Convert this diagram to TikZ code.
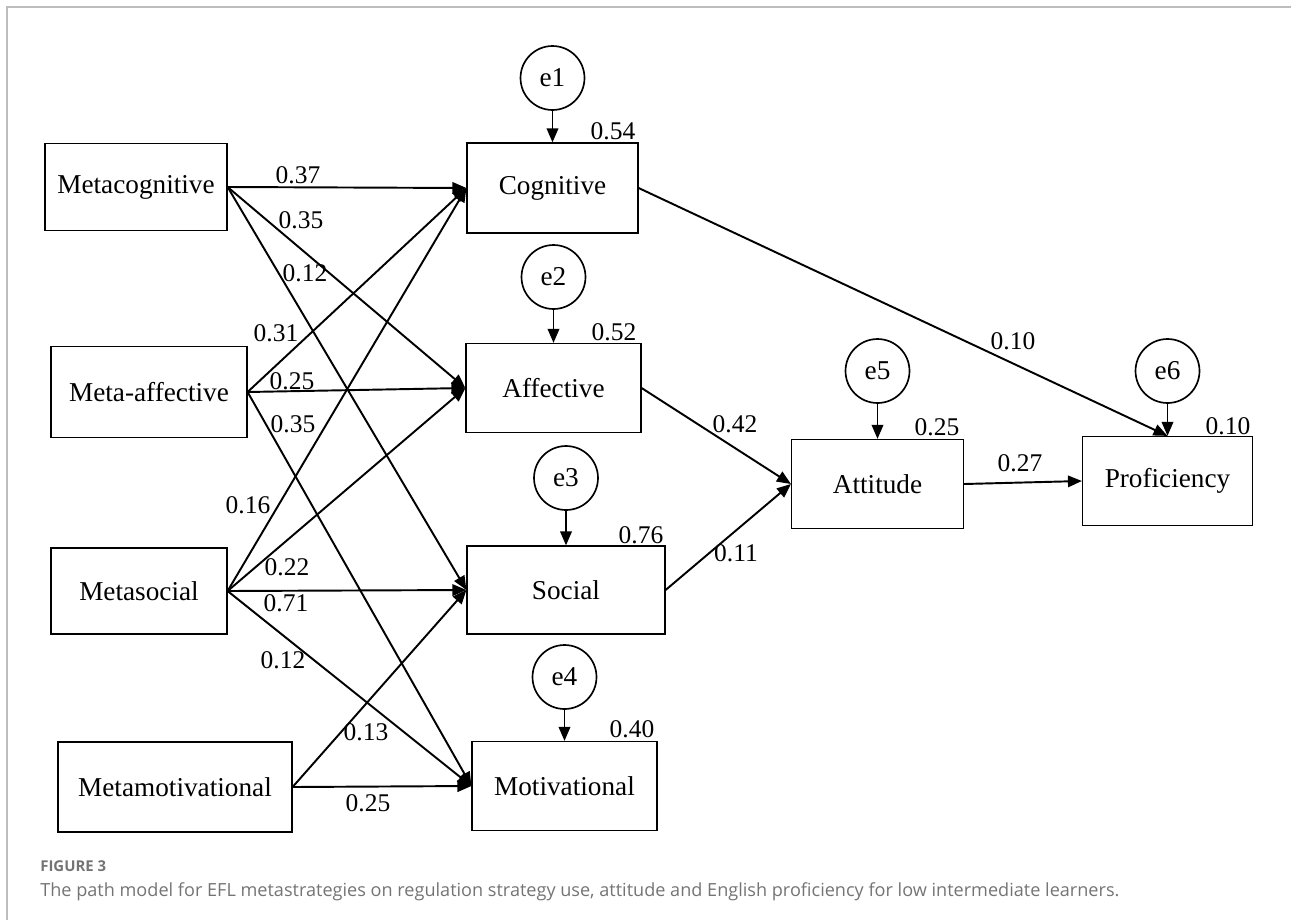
\documentclass[tikz,border=0pt]{standalone}
\usepackage{fontspec}
\setmainfont{Liberation Serif}
\newfontfamily\capfont{Open Sans}
\usetikzlibrary{positioning, arrows.meta, shapes, calc}
\definecolor{framegray}{HTML}{BDBDBD}
\definecolor{capgray}{HTML}{747474}

\begin{document}
\begin{tikzpicture}[
        x=0.02cm, y=-0.02cm,
        var/.style={rectangle, draw, line width=0.7pt, minimum height=1.78cm, font=\fontsize{15.5}{18}\selectfont},
        err/.style={circle, draw, line width=0.95pt, minimum size=1.28cm, inner sep=0pt, font=\fontsize{15.5}{18}\selectfont},
        coef/.style={font=\fontsize{14.5}{17}\selectfont, inner sep=1pt},
        link/.style={-{Triangle[length=2.8mm, width=2.3mm]}, line width=1.1pt}
    ]
    \useasboundingbox (0,0) rectangle (1291,920);
    \draw[framegray, line width=1.1pt] (1291,7) -- (7,7) -- (7,920);

    % metastrategies (left column)
    \node[var, minimum width=3.64cm, minimum height=1.74cm] (metacog) at (136,187) {Metacognitive};
    \node[var, minimum width=3.92cm, minimum height=1.82cm] (metaaff) at (149,392) {Meta-affective};
    \node[var, minimum width=3.52cm, minimum height=1.72cm] (metasoc) at (139,591) {Metasocial};
    \node[var, minimum width=4.68cm, minimum height=1.80cm] (metamot) at (175,787) {Metamotivational};

    % regulation strategies (middle column)
    \node[var, minimum width=3.42cm, minimum height=1.80cm] (cog) at (552.5,188) {Cognitive};
    \node[var, minimum width=3.50cm] (aff) at (553.5,388) {Affective};
    \node[var, minimum width=3.96cm, minimum height=1.76cm] (soc) at (566,590) {Social};
    \node[var, minimum width=3.70cm] (mot) at (564.5,786) {Motivational};

    % outcomes
    \node[var, minimum width=3.44cm] (att) at (877.5,484) {Attitude};
    \node[var, minimum width=3.40cm] (prof) at (1167.5,481) {Proficiency};

    % error terms
    \foreach \e/\x/\y/\t in {1/552.5/78/cog, 2/553.5/277/aff, 3/566/478/soc, 4/564.5/677/mot, 5/877.5/371/att, 6/1167.5/371/prof} {
        \node[err] (e\e) at (\x,\y) {e\e};
        \draw[link] (e\e) -- (e\e |- \t.north);
    }

    % paths
    \foreach \a/\b in {metacog/cog, metacog/aff, metacog/soc,
                       metaaff/cog, metaaff/aff, metaaff/mot,
                       metasoc/cog, metasoc/aff, metasoc/soc, metasoc/mot,
                       metamot/soc, metamot/mot,
                       aff/att, soc/att, att/prof} {
        \draw[link] (\a.east) -- (\b.west);
    }
    \draw[link] (cog.east) -- (prof.north);

    % path coefficients
    \foreach \n/\x/\y/\v in {a/298/175/0.37, b/301/220/0.35, c/305/273/0.12,
                             d/276/333/0.31, e/292/381/0.25, f/293/424/0.35,
                             g/248/505/0.16, h/287/567/0.22, i/286/603/0.71, j/283/660/0.12,
                             k/366/732/0.13, l/368/803/0.25,
                             m/735/424/0.42, n/736/553/0.11, o/1013/341/0.10, p/1020/463/0.27} {
        \node[coef] (w\n) at (\x,\y) {\v};
    }

    % squared multiple correlations
    \foreach \n/\x/\y/\v in {cog/613/131/0.54, aff/614/332/0.52, soc/641/535/0.76,
                             mot/632/729/0.40, att/937/427/0.25, prof/1228/426/0.10} {
        \node[coef] (r\n) at (\x,\y) {\v};
    }

    % caption
    \node[anchor=base west, inner sep=0pt, text=capgray, font=\capfont\bfseries\fontsize{8.5}{10}\selectfont] (figno) at (40,871) {FIGURE 3};
    \node[anchor=base west, inner sep=0pt, text=capgray, font=\capfont\fontsize{10.3}{12}\selectfont] (caption) at (40,896) {The path model for EFL metastrategies on regulation strategy use, attitude and English proficiency for low intermediate learners.};
\end{tikzpicture}
\end{document}
